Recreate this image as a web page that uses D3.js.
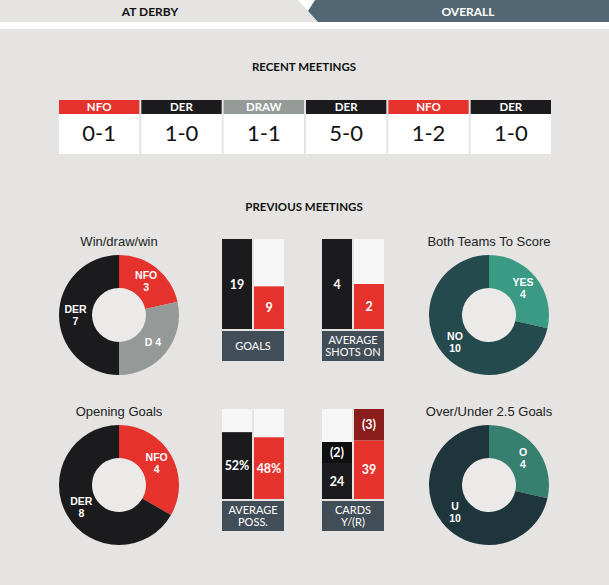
<!DOCTYPE html>
<html>
<head>
<meta charset="utf-8">
<script src="https://cdn.jsdelivr.net/npm/d3@7"></script>
<style>
  html, body { margin: 0; padding: 0; background: #fff; }
  svg { display: block; }
</style>
</head>
<body>
<svg id="chart"></svg>
<script>
// Recent meetings
const recentWinners = ['NFO', 'DER', 'DRAW', 'DER', 'NFO', 'DER']
const recentScores = ['0-1', '1-0', '1-1', '5-0', '1-2', '1-0']

// Donuts
const wdwLabels = ['NFO', 'D', 'DER']
const wdwValues = [3, 4, 7]
const bttsLabels = ['YES', 'NO']
const bttsValues = [4, 10]
const openingLabels = ['NFO', 'DER']
const openingValues = [4, 8]
const ouLabels = ['O', 'U']
const ouValues = [4, 10]

// Bar panels (DER, NFO)
const goalsValues = [19, 9]
const shotsValues = [4, 2]
const possValues = [52, 48]
const cardsYellow = [24, 39]
const cardsRed = [2, 3]

const width = 609
const height = 585
const bg = '#e5e4e2'
const red = '#e5322d'
const black = '#1b1a1d'
const grey = '#959a98'
const slate = '#424e57'
const fontNum = 'Lato, "Open Sans", sans-serif'
const fontArial = '"Liberation Sans", Arial, sans-serif'

const svg = d3.select('#chart').attr('width', width).attr('height', height)

svg.append('rect').attr('width', width).attr('height', height).attr('fill', '#fff')
svg.append('rect').attr('y', 29).attr('width', width).attr('height', height - 29).attr('fill', bg)

// Tabs
svg.append('path')
  .attr('d', 'M0,0 L298,0 L318,22 L0,22 Z')
  .attr('fill', bg)
svg.append('path')
  .attr('d', 'M315,0 L609,0 L609,22 L318,22 L308,11 Z')
  .attr('fill', '#546774')
svg.append('text')
  .attr('x', 150).attr('y', 16)
  .attr('text-anchor', 'middle')
  .attr('font-family', fontNum).attr('font-weight', 'bold').attr('font-size', 12)
  .attr('fill', '#111')
  .text('AT DERBY')
svg.append('text')
  .attr('x', 468).attr('y', 16)
  .attr('text-anchor', 'middle')
  .attr('font-family', fontNum).attr('font-weight', 'bold').attr('font-size', 12)
  .attr('fill', '#fff')
  .text('OVERALL')

function sectionTitle(y, t) {
  svg.append('text')
    .attr('x', 304).attr('y', y)
    .attr('text-anchor', 'middle')
    .attr('font-family', fontNum).attr('font-weight', 'bold').attr('font-size', 11.5)
    .attr('fill', '#111')
    .text(t)
}
sectionTitle(71, 'RECENT MEETINGS')
sectionTitle(211, 'PREVIOUS MEETINGS')

// Recent meetings boxes
const teamColor = { NFO: red, DER: black, DRAW: grey }
const xRecent = d3.scaleBand()
  .domain(d3.range(recentScores.length))
  .range([59, 551])
  .paddingInner(2 / 82)

const boxes = svg.append('g').selectAll('g')
  .data(recentScores.map((s, i) => ({ s, w: recentWinners[i], i })))
  .join('g')
  .attr('transform', d => `translate(${xRecent(d.i)},100)`)

boxes.append('rect')
  .attr('width', xRecent.bandwidth()).attr('height', 14)
  .attr('fill', d => teamColor[d.w])
boxes.append('rect')
  .attr('y', 14)
  .attr('width', xRecent.bandwidth()).attr('height', 40)
  .attr('fill', '#fff')
boxes.append('text')
  .attr('x', xRecent.bandwidth() / 2).attr('y', 11)
  .attr('text-anchor', 'middle')
  .attr('font-family', fontNum).attr('font-weight', 'bold').attr('font-size', 11.5)
  .attr('fill', '#fff')
  .text(d => d.w)
boxes.append('text')
  .attr('x', xRecent.bandwidth() / 2).attr('y', 41)
  .attr('text-anchor', 'middle')
  .attr('font-family', fontNum).attr('font-size', 22)
  .attr('fill', '#111')
  .text(d => d.s)

// Donuts
function donut(cx, cy, title, labels, values, colors, singleLine) {
  const g = svg.append('g').attr('transform', `translate(${cx},${cy})`)
  g.append('text')
    .attr('y', -69)
    .attr('text-anchor', 'middle')
    .attr('font-family', fontArial).attr('font-size', 13)
    .attr('fill', '#222')
    .text(title)
  const pie = d3.pie().sort(null).value(d => d.v)
  const arc = d3.arc().innerRadius(27).outerRadius(60)
  const data = pie(labels.map((l, i) => ({ l, v: values[i], c: colors[i] })))
  g.append('circle').attr('r', 27).attr('fill', '#ebeae9')
  g.selectAll('path')
    .data(data)
    .join('path')
    .attr('d', arc)
    .attr('fill', d => d.data.c)
  const lab = g.selectAll('text.lab')
    .data(data)
    .join('text')
    .attr('class', 'lab')
    .attr('text-anchor', 'middle')
    .attr('font-family', fontArial).attr('font-weight', 'bold').attr('font-size', 10.5)
    .attr('fill', '#fff')
    .attr('transform', d => `translate(${arc.centroid(d)})`)
  lab.each(function (d) {
    const t = d3.select(this)
    if (singleLine.includes(d.data.l)) {
      t.append('tspan').attr('x', 0).attr('y', 4).text(`${d.data.l} ${d.data.v}`)
    } else {
      t.append('tspan').attr('x', 0).attr('y', -2).text(d.data.l)
      t.append('tspan').attr('x', 0).attr('y', 10).text(d.data.v)
    }
  })
}

donut(119, 315, 'Win/draw/win', wdwLabels, wdwValues, [red, grey, black], ['D'])
donut(489, 315, 'Both Teams To Score', bttsLabels, bttsValues, ['#3a9a84', '#254a4d'], [])
donut(119, 485, 'Opening Goals', openingLabels, openingValues, [red, black], [])
donut(489, 485, 'Over/Under 2.5 Goals', ouLabels, ouValues, ['#378070', '#1f353c'], [])

// Bar panels
const barH = 90
const xBar = d3.scaleBand().domain([0, 1]).range([0, 62]).paddingInner(0.0625)

function panel(px, py, stacks, yMax, labelLines) {
  const g = svg.append('g').attr('transform', `translate(${px},${py})`)
  const y = d3.scaleLinear().domain([0, yMax]).range([barH, 0])
  g.selectAll('rect.bg')
    .data([0, 1])
    .join('rect')
    .attr('class', 'bg')
    .attr('x', d => xBar(d)).attr('width', xBar.bandwidth())
    .attr('height', barH)
    .attr('fill', '#f6f6f6')
  stacks.forEach((segs, i) => {
    let base = 0
    segs.forEach(s => {
      const y0 = y(base), y1 = y(base + s.v)
      g.append('rect')
        .attr('x', xBar(i)).attr('width', xBar.bandwidth())
        .attr('y', y1).attr('height', y0 - y1)
        .attr('fill', s.c)
      g.append('text')
        .attr('x', xBar(i) + xBar.bandwidth() / 2)
        .attr('y', (y0 + y1) / 2 + 4.5)
        .attr('text-anchor', 'middle')
        .attr('font-family', fontNum).attr('font-weight', 'bold').attr('font-size', 12.5)
        .attr('fill', '#fff')
        .text(s.t)
      base += s.v
    })
  })
  g.append('rect')
    .attr('y', barH + 2).attr('width', 62).attr('height', 30)
    .attr('fill', slate)
  const lt = g.append('text')
    .attr('text-anchor', 'middle')
    .attr('font-family', fontNum).attr('font-size', 11)
    .attr('fill', '#fff')
  const mid = barH + 17
  labelLines.forEach((l, k) => {
    lt.append('tspan')
      .attr('x', 31)
      .attr('y', mid + 4 + (k - (labelLines.length - 1) / 2) * 11.5)
      .text(l)
  })
}

const colsDR = [black, red]
panel(222, 239, goalsValues.map((v, i) => [{ v, c: colsDR[i], t: v }]), d3.max(goalsValues), ['GOALS'])
panel(322, 239, shotsValues.map((v, i) => [{ v, c: colsDR[i], t: v }]), d3.max(shotsValues), ['AVERAGE', 'SHOTS ON'])
panel(222, 409, possValues.map((v, i) => [{ v, c: colsDR[i], t: v + '%' }]), 70, ['AVERAGE', 'POSS.'])

// cards: red cards drawn with a heavier weight
const redWeight = 7
const cardStacks = cardsYellow.map((v, i) => [
  { v, c: colsDR[i], t: v },
  { v: cardsRed[i] * redWeight, c: i === 0 ? '#0f0e10' : '#8b1c1c', t: `(${cardsRed[i]})` }
])
panel(322, 409, cardStacks,
  d3.max(cardsYellow.map((v, i) => v + cardsRed[i] * redWeight)),
  ['CARDS', 'Y/(R)'])
</script>
</body>
</html>
